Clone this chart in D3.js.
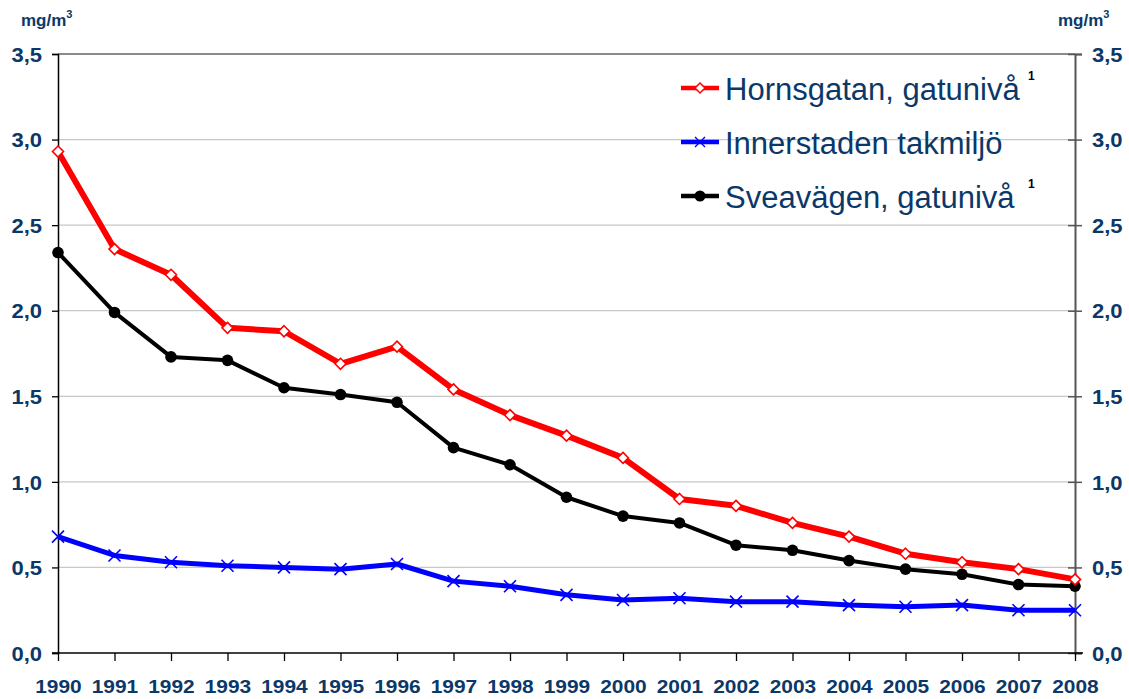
<!DOCTYPE html>
<html>
<head>
<meta charset="utf-8">
<script src="https://cdn.jsdelivr.net/npm/d3@7"></script>
<style>
  body { margin: 0; background: #fff; }
  svg { display: block; font-family: "Liberation Sans", Arial, sans-serif; }
</style>
</head>
<body>
<div id="chart"></div>
<script>
var years = [1990, 1991, 1992, 1993, 1994, 1995, 1996, 1997, 1998, 1999,
             2000, 2001, 2002, 2003, 2004, 2005, 2006, 2007, 2008]
var hornsgatan = [2.93, 2.36, 2.21, 1.90, 1.88, 1.69, 1.79, 1.54, 1.39, 1.27,
                  1.14, 0.90, 0.86, 0.76, 0.68, 0.58, 0.53, 0.49, 0.43]
var innerstaden = [0.68, 0.57, 0.53, 0.51, 0.50, 0.49, 0.52, 0.42, 0.39, 0.34,
                   0.31, 0.32, 0.30, 0.30, 0.28, 0.27, 0.28, 0.25, 0.25]
var sveavagen = [2.34, 1.99, 1.73, 1.71, 1.55, 1.51, 1.465, 1.20, 1.10, 0.91,
                 0.80, 0.76, 0.63, 0.60, 0.54, 0.49, 0.46, 0.40, 0.39]
var yTicks = [0, 0.5, 1.0, 1.5, 2.0, 2.5, 3.0, 3.5]
var seriesNames = ['Hornsgatan, gatunivå', 'Innerstaden takmiljö', 'Sveavägen, gatunivå']
var footnotes = ['1', '', '1']

var width = 1129
var height = 699
var margin = {top: 54, right: 54, bottom: 46, left: 58}
var navy = '#0b3868'
var font = '"Liberation Sans", Arial, sans-serif'

var svg = d3.select('#chart').append('svg')
    .attr('width', width)
    .attr('height', height)

var x = d3.scalePoint()
    .domain(years)
    .range([margin.left, width - margin.right])

var y = d3.scaleLinear()
    .domain([0, 3.5])
    .range([height - margin.bottom, margin.top])

var fmt = d => d3.format('.1f')(d).replace('.', ',')

// gridlines
svg.append('g')
    .selectAll('line')
    .data(yTicks.filter(d => d > 0))
    .join('line')
    .attr('x1', x(1990)).attr('x2', x(2008))
    .attr('y1', d => y(d)).attr('y2', d => y(d))
    .attr('stroke', d => d === 3.5 ? '#8c8c8c' : '#c8c8c8')
    .attr('stroke-width', d => d === 3.5 ? 2 : 1.3)

// left axis
var left = svg.append('g')
    .attr('transform', `translate(${x(1990)},0)`)
    .call(d3.axisLeft(y).tickValues(yTicks).tickFormat(fmt).tickSize(6))
left.select('.domain').attr('stroke', '#000').attr('stroke-width', 1.5)
left.selectAll('.tick line').attr('stroke', '#000').attr('stroke-width', 1.3)
left.selectAll('.tick text')
    .attr('x', 0).attr('dy', '0.36em')
    .attr('transform', 'translate(-16,0) scale(1.1,1)')
    .attr('fill', navy).attr('font-size', 20).attr('font-weight', 'bold')
    .attr('font-family', font)

// right axis
var right = svg.append('g')
    .attr('transform', `translate(${x(2008)},0)`)
    .call(d3.axisRight(y).tickValues(yTicks).tickFormat(fmt).tickSize(7))
right.select('.domain').attr('stroke', '#555').attr('stroke-width', 2)
right.selectAll('.tick line').attr('stroke', '#555').attr('stroke-width', 1.5).attr('x1', -7)
right.selectAll('.tick text')
    .attr('x', 0).attr('dy', '0.36em')
    .attr('transform', 'translate(17,0) scale(1.1,1)')
    .attr('fill', navy).attr('font-size', 20).attr('font-weight', 'bold')
    .attr('font-family', font)

// bottom axis
var bottom = svg.append('g')
    .attr('transform', `translate(0,${y(0)})`)
    .call(d3.axisBottom(x).tickSize(8).tickFormat(d3.format('d')))
bottom.select('.domain').attr('stroke', '#000').attr('stroke-width', 1.5)
    .attr('d', `M${x(1990) - 6},0H${x(2008) + 8}`)
bottom.selectAll('.tick line').attr('stroke', '#000').attr('stroke-width', 1.3)
bottom.selectAll('.tick text')
    .attr('y', 0).attr('dy', 0)
    .attr('transform', 'translate(0,40) scale(1.1,1)')
    .attr('fill', navy).attr('font-size', 19).attr('font-weight', 'bold')
    .attr('font-family', font)

// unit labels
function unit(xPos) {
    var t = svg.append('text')
        .attr('x', xPos).attr('y', 26)
        .attr('fill', navy).attr('font-size', 17).attr('font-weight', 'bold')
        .text('mg/m')
    t.append('tspan').attr('dy', -8).attr('font-size', 11).text('3')
}
unit(21)
unit(1058)

var line = d3.line()
    .x((d, i) => x(years[i]))
    .y(d => y(d))

var series = [
    {values: hornsgatan, color: '#ff0000', width: 6, marker: 'diamond'},
    {values: innerstaden, color: '#0000ff', width: 5, marker: 'cross'},
    {values: sveavagen, color: '#000000', width: 4, marker: 'circle'}
]

function drawMarker(g, s) {
    if (s.marker === 'diamond') {
        g.append('path')
            .attr('d', 'M0,-5.5L5.5,0L0,5.5L-5.5,0Z')
            .attr('fill', '#fff').attr('stroke', s.color).attr('stroke-width', 1.6)
    } else if (s.marker === 'cross') {
        g.append('path')
            .attr('d', 'M-6,-6L6,6M-6,6L6,-6')
            .attr('stroke', s.color).attr('stroke-width', 1.6)
    } else {
        g.append('circle').attr('r', 5.8).attr('fill', s.color)
    }
}

// draw lines: black, then blue, then red on top
;[2, 1, 0].forEach(k => {
    var s = series[k]
    svg.append('path')
        .datum(s.values)
        .attr('fill', 'none')
        .attr('stroke', s.color)
        .attr('stroke-width', s.width)
        .attr('stroke-linejoin', 'round')
        .attr('d', line)
    s.values.forEach((v, i) => {
        var g = svg.append('g').attr('transform', `translate(${x(years[i])},${y(v)})`)
        drawMarker(g, s)
    })
})

// legend
var legend = svg.append('g')
series.forEach((s, i) => {
    var ly = 88 + i * 54
    legend.append('line')
        .attr('x1', 681).attr('x2', 719)
        .attr('y1', ly).attr('y2', ly)
        .attr('stroke', s.color).attr('stroke-width', 4.5)
    var g = legend.append('g').attr('transform', `translate(700,${ly})`)
    if (s.marker === 'diamond') {
        g.append('path').attr('d', 'M0,-5L5,0L0,5L-5,0Z')
            .attr('fill', '#fff').attr('stroke', s.color).attr('stroke-width', 1.5)
    } else if (s.marker === 'cross') {
        g.append('path').attr('d', 'M-5,-5L5,5M-5,5L5,-5')
            .attr('stroke', s.color).attr('stroke-width', 1.4)
    } else {
        g.append('circle').attr('r', 5.5).attr('fill', s.color)
    }
    legend.append('text')
        .attr('x', 725).attr('y', ly + 11.5)
        .attr('fill', navy).attr('font-size', 31)
        .text(seriesNames[i])
    if (footnotes[i]) {
        legend.append('text')
            .attr('x', 1028).attr('y', ly - 8)
            .attr('fill', '#000').attr('font-size', 12).attr('font-weight', 'bold')
            .text(footnotes[i])
    }
})
</script>
</body>
</html>
